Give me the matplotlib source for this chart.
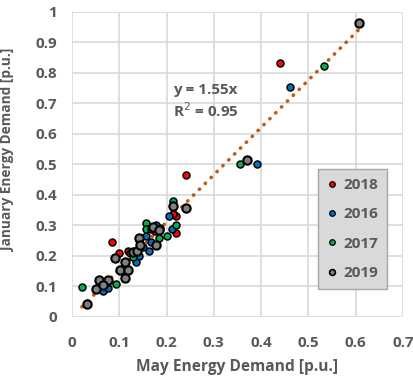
import numpy as np
import matplotlib
matplotlib.use("Agg")
import matplotlib.pyplot as plt
from matplotlib.lines import Line2D

plt.rcParams['font.family'] = ['Open Sans', 'DejaVu Sans']

# May (x) vs January (y) demand
may_2018 = [0.440, 0.241, 0.220, 0.220, 0.214, 0.085, 0.099, 0.119, 0.141, 0.141, 0.058, 0.128, 0.175, 0.186]
jan_2018 = [0.830, 0.464, 0.330, 0.273, 0.338, 0.244, 0.208, 0.215, 0.251, 0.258, 0.116, 0.213, 0.280, 0.290]

may_2016 = [0.462, 0.391, 0.206, 0.212, 0.163, 0.156, 0.141, 0.135, 0.066, 0.077, 0.178, 0.168, 0.150, 0.122]
jan_2016 = [0.752, 0.502, 0.330, 0.288, 0.215, 0.265, 0.198, 0.179, 0.085, 0.095, 0.300, 0.246, 0.230, 0.210]

may_2017 = [0.534, 0.356, 0.021, 0.092, 0.213, 0.221, 0.200, 0.184, 0.156, 0.156, 0.168, 0.128, 0.072]
jan_2017 = [0.822, 0.502, 0.096, 0.108, 0.380, 0.300, 0.265, 0.259, 0.307, 0.287, 0.287, 0.195, 0.110]

may_2019 = [0.607, 0.371, 0.242, 0.214, 0.032, 0.050, 0.058, 0.077, 0.091, 0.101, 0.113, 0.119,
            0.113, 0.128, 0.142, 0.178, 0.172, 0.137, 0.143, 0.185, 0.065]
jan_2019 = [0.963, 0.514, 0.355, 0.364, 0.042, 0.092, 0.120, 0.120, 0.192, 0.153, 0.127, 0.153,
            0.178, 0.213, 0.259, 0.235, 0.293, 0.215, 0.235, 0.285, 0.105]

years = ['2018', '2016', '2017', '2019']
colors = ['#FF0000', '#0070C0', '#00B050', '#808080']
slope = 1.55
x_ticks = [0, 0.1, 0.2, 0.3, 0.4, 0.5, 0.6, 0.7]
y_ticks = [0, 0.1, 0.2, 0.3, 0.4, 0.5, 0.6, 0.7, 0.8, 0.9, 1]

grey_txt = '#595959'

fig = plt.figure(figsize=(4.14, 3.84), dpi=100)
ax = fig.add_axes([0.174, 0.175, 0.799, 0.795])

# trend line through origin
all_x = may_2018 + may_2016 + may_2017 + may_2019
xt = np.array([min(all_x), max(all_x)])
ax.plot(xt, slope * xt, color='#C55A11', linestyle=(0, (0.1, 2.2)), linewidth=2.6,
        dash_capstyle='round', zorder=2)

ax.scatter(may_2018, jan_2018, s=25, c=colors[0], edgecolors='black', linewidths=1.1, zorder=3)
ax.scatter(may_2016, jan_2016, s=25, c=colors[1], edgecolors='black', linewidths=1.1, zorder=3)
ax.scatter(may_2017, jan_2017, s=25, c=colors[2], edgecolors='black', linewidths=1.1, zorder=3)
ax.scatter(may_2019, jan_2019, s=36, c=colors[3], edgecolors='black', linewidths=1.5, zorder=3)

ax.set_xlim(0, 0.7)
ax.set_ylim(0, 1)
ax.set_xticks(x_ticks)
ax.set_yticks(y_ticks)
ax.set_xticklabels([f'{v:g}' for v in x_ticks])
ax.set_yticklabels([f'{v:g}' for v in y_ticks])
ax.grid(True, color='#D9D9D9', linewidth=1.2)
ax.set_axisbelow(True)
for s in ax.spines.values():
    s.set_visible(False)
ax.tick_params(length=0, colors=grey_txt, labelsize=11)
ax.tick_params(axis='x', pad=14)
ax.tick_params(axis='y', pad=11)
for lab in ax.get_xticklabels() + ax.get_yticklabels():
    lab.set_fontweight('bold')

ax.set_xlabel('May Energy Demand [p.u.]', color=grey_txt, fontsize=11.2, fontweight='bold', labelpad=6)
ax.set_ylabel('January Energy Demand [p.u.]', color=grey_txt, fontsize=9.8, fontweight='bold')
ax.yaxis.set_label_coords(-0.172, 0.547)

ax.text(0.213, 0.765, 'y = 1.55x\nR$^2$ = 0.95', color=grey_txt, fontsize=11, fontweight='bold',
        va='top', ha='left', linespacing=1.25)

# small legend markers, like the original
handles = [Line2D([], [], linestyle='none', marker='o', markersize=4.0 if y != '2019' else 4.2,
                  markerfacecolor=c, markeredgecolor='black',
                  markeredgewidth=0.9 if y != '2019' else 1.2)
           for y, c in zip(years, colors)]
leg = ax.legend(handles, years, loc='upper left', bbox_to_anchor=(0.743, 0.484), borderaxespad=0,
                frameon=True, fancybox=False, handletextpad=0.4, labelspacing=1.0,
                borderpad=0.6, handlelength=0.65, prop={'weight': 'bold', 'size': 11})
leg.get_frame().set_facecolor('#D9D9D9')
leg.get_frame().set_edgecolor('#A6A6A6')
leg.get_frame().set_alpha(1)
for t in leg.get_texts():
    t.set_color(grey_txt)

fig.savefig('out.png', dpi=100)
